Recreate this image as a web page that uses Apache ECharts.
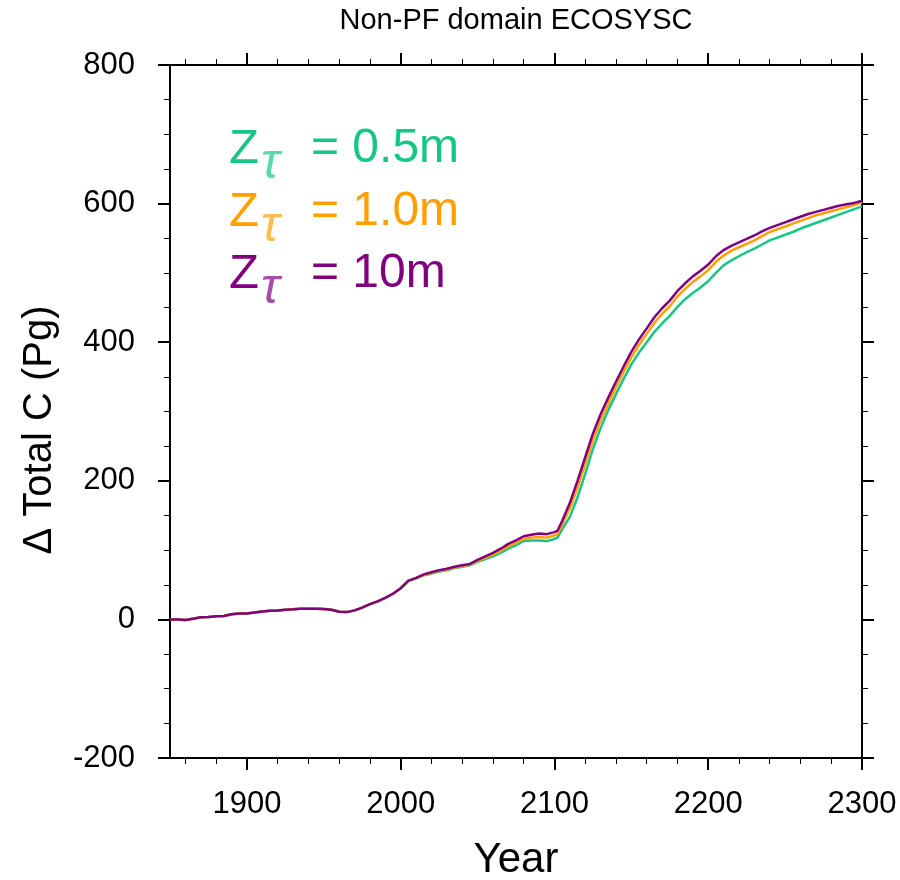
<!DOCTYPE html>
<html>
<head>
<meta charset="utf-8">
<script src="https://cdn.jsdelivr.net/npm/echarts@6/dist/echarts.min.js"></script>
<style>
html,body{margin:0;padding:0;background:#fff;}
#chart{width:900px;height:880px;}
</style>
</head>
<body>
<div id="chart"></div>
<script>
// ---- data ----
const years = [1850,1855,1860,1865,1870,1875,1880,1885,1890,1895,
  1900,1905,1910,1915,1920,1925,1930,1935,1940,1945,
  1950,1955,1960,1965,1970,1975,1980,1985,1990,1995,
  2000,2005,2010,2015,2020,2025,2030,2035,2040,2045,
  2050,2055,2060,2065,2070,2075,2080,2085,2090,2095,
  2100,2102,
  2105,2110,2115,2120,2125,2130,2135,2140,2145,2150,
  2155,2160,2165,2170,2175,2180,2185,2190,2195,2200,
  2205,2210,2215,2220,2225,2230,2235,2240,2245,2250,
  2255,2260,2265,2270,2275,2280,2285,2290,2295,2300];

const z10m = [0,0,-1,1,3,3.5,4.5,5,7.5,8.5,
  8.5,10,11.5,12.5,13,14,14.5,15.5,15.5,15.5,
  15,14,11,10.5,13,17,22,26,31,37,
  45,56,60,65,68,71,73,76,78,80,
  86,91,96,102,109,114,120,122,124,123,
  126,128,
  142,168,200,234,268,296,320,343,365,386,
  404,420,436,449,460,474,485,495,503,512,
  524,533,539,544,549,554,560,565,569,573,
  577,581,585,588,591,594,597,599,601,604];

const z1m = [0,0,-1,1,3,3.5,4.5,5,7.5,8.5,
  8.5,10,11.5,12.5,13,14,14.5,15.5,15.5,15.5,
  15,14,11,10.5,13,17,22,26,31,37,
  45,55.5,59.5,64,67,70,72,75,77,79,
  84.5,89,93.5,99,105.5,110.5,116,118,119,118,
  121,123,
  137,160,190,224,258,287,311,335,357,378,
  396,412,428,441,452,466,477,487,495,504,
  516,525,532,537,542,547,553,559,563,567,
  571,575,579,583,586,589,592,595,598,602];

const z05m = [0,0,-1,1,3,3.5,4.5,5,7.5,8.5,
  8.5,10,11.5,12.5,13,14,14.5,15.5,15.5,15.5,
  15,14,11,10.5,13,17,22,26,31,37,
  44.5,55,59,63.5,66,69,71,74,76,78,
  83,87,91,96,102,107,113,114,114,113,
  116,118,
  130,148,176,210,246,276,302,325,347,368,
  385,400,415,427,438,451,462,471,479,488,
  500,511,518,524,530,535,541,547,551,555,
  559,564,568,572,576,580,584,588,592,596];

const xMajor = [1900,2000,2100,2200,2300];
const xMinor = [1860,1880,1920,1940,1960,1980,2020,2040,2060,2080,2120,2140,2160,2180,2220,2240,2260,2280];
const legendLabels = ['= 0.5m','= 1.0m','= 10m'];
const colors = ['#16c784','#ff9f00','#800080'];
const titleText = 'Non-PF domain ECOSYSC';
const xName = 'Year';
const yName = '\u0394 Total C (Pg)';

// ---- chart ----
const FONT = "'Liberation Sans', Arial, Helvetica, sans-serif";
const chart = echarts.init(document.getElementById('chart'), null, {renderer:'canvas'});
const pair = arr => years.map((y,i)=>[y, arr[i]]);

function xAxisDef(position, custom, len, showLabel, width){
  return {
    type:'value', min:1850, max:2300, position: position,
    axisLine:{show:true, onZero:false, lineStyle:{color:'#000', width:2}},
    axisTick:{show:true, inside:false, length:len, customValues: custom, lineStyle:{color:'#000', width:width}},
    axisLabel:{show:showLabel, customValues: custom, margin:31, color:'#000', fontSize:31, fontFamily:FONT,
      formatter: v => String(v)},
    splitLine:{show:false}
  };
}
function yAxisDef(position, showLabel){
  return {
    type:'value', min:-200, max:800, interval:200, position: position,
    axisLine:{show:true, onZero:false, lineStyle:{color:'#000', width:2}},
    axisTick:{show:true, inside:false, length:12, lineStyle:{color:'#000', width:2}},
    minorTick:{show:true, splitNumber:4, length:6, lineStyle:{color:'#000', width:1}},
    axisLabel:{show:showLabel, margin:35, color:'#000', fontSize:31, fontFamily:FONT, formatter: v => String(v)},
    splitLine:{show:false}
  };
}

const g = [];
const rowY = [149, 212, 274];
for (let i=0;i<3;i++){
  g.push({type:'text', x:229, y:rowY[i], style:{text:'Z', fill:colors[i], font:'49px '+FONT, textAlign:'left', textVerticalAlign:'middle'}});
  g.push({type:'text', x:261, y:rowY[i]+15, style:{text:'\u03c4', fill:colors[i], opacity:0.7, font:'italic 50px '+FONT, textAlign:'left', textVerticalAlign:'middle'}});
  g.push({type:'text', x:311, y:rowY[i], style:{text:legendLabels[i], fill:colors[i], font:'48px '+FONT, textAlign:'left', textVerticalAlign:'middle'}});
}
g.push({type:'text', x:40, y:430, rotation:Math.PI/2, style:{text:yName, fill:'#000', font:'40px '+FONT, textAlign:'center', textVerticalAlign:'middle'}});
g.push({type:'text', x:516, y:860, style:{text:xName, fill:'#000', font:'42px '+FONT, textAlign:'center', textVerticalAlign:'middle'}});
g.push({type:'text', x:516, y:21, style:{text:titleText, fill:'#000', font:'29px '+FONT, textAlign:'center', textVerticalAlign:'middle'}});

const option = {
  backgroundColor:'#fff',
  animation:false,
  grid:{left:170, right:38, top:65, bottom:122, containLabel:false},
  xAxis:[
    xAxisDef('bottom', xMajor, 12, true, 2),
    xAxisDef('bottom', xMinor, 6, false, 1),
    xAxisDef('top', xMajor, 12, false, 2),
    xAxisDef('top', xMinor, 6, false, 1)
  ],
  yAxis:[ yAxisDef('left', true), yAxisDef('right', false) ],
  series:[
    {type:'line', name:'0.5m', xAxisIndex:0, yAxisIndex:0, data:pair(z05m), showSymbol:false, lineStyle:{color:colors[0], width:2.5}, itemStyle:{color:colors[0]}},
    {type:'line', name:'1.0m', xAxisIndex:0, yAxisIndex:0, data:pair(z1m), showSymbol:false, lineStyle:{color:colors[1], width:2.5}, itemStyle:{color:colors[1]}},
    {type:'line', name:'10m', xAxisIndex:0, yAxisIndex:0, data:pair(z10m), showSymbol:false, lineStyle:{color:colors[2], width:2.5}, itemStyle:{color:colors[2]}}
  ],
  graphic: g
};
chart.setOption(option);
</script>
</body>
</html>
